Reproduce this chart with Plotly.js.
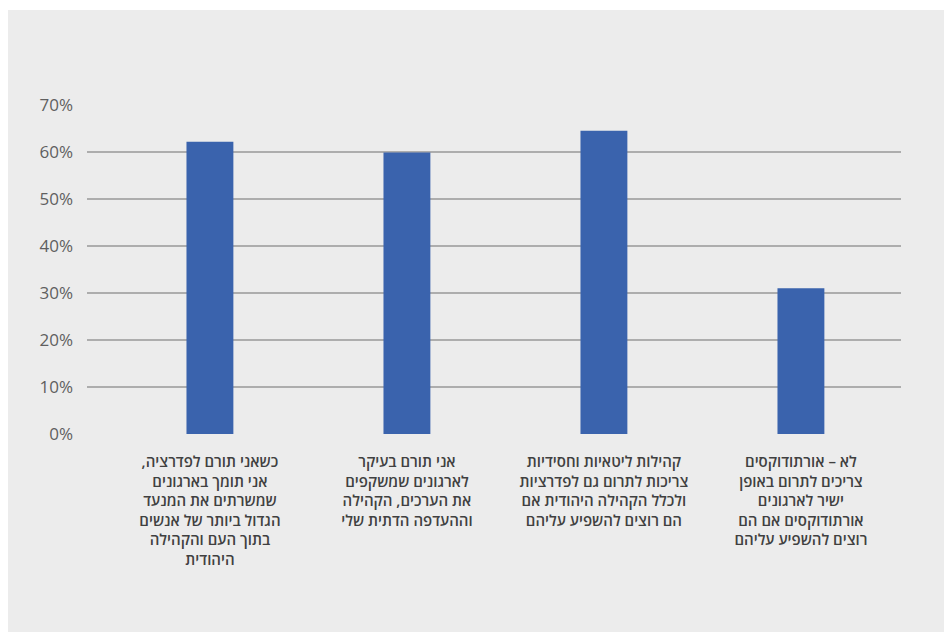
<!DOCTYPE html>
<html>
<head>
<meta charset="utf-8">
<script src="https://cdn.plot.ly/plotly-3.0.1.min.js"></script>
<style>
html, body { margin: 0; padding: 0; background: #ffffff; }
#chart { position: absolute; left: 8px; top: 10px; width: 936px; height: 622px; }
</style>
</head>
<body>
<div id="chart"></div>
<script>
const RLM = "\u200F";
const categories = [
  "כשאני תורם לפדרציה," + RLM + "<br>אני תומך בארגונים<br>שמשרתים את המנעד<br>הגדול ביותר של אנשים<br>בתוך העם והקהילה<br>היהודית",
  "אני תורם בעיקר<br>לארגונים שמשקפים<br>את הערכים, הקהילה<br>וההעדפה הדתית שלי",
  "קהילות ליטאיות וחסידיות<br>צריכות לתרום גם לפדרציות<br>ולכלל הקהילה היהודית אם<br>הם רוצים להשפיע עליהם",
  "לא – אורתודוקסים<br>צריכים לתרום באופן<br>ישיר לארגונים<br>אורתודוקסים אם הם<br>רוצים להשפיע עליהם"
];
const positions = [0, 1, 2, 3];
const values = [62.2, 59.9, 64.5, 31.0];
const yTicks = [0, 10, 20, 30, 40, 50, 60, 70];

const trace = {
  type: "bar",
  x: positions,
  y: values,
  width: 0.238,
  marker: { color: "#3a63ad" },
  hoverinfo: "skip"
};

const layout = {
  width: 936,
  height: 622,
  paper_bgcolor: "#ececec",
  plot_bgcolor: "#ececec",
  margin: { l: 79, r: 43, t: 95, b: 198 },
  showlegend: false,
  font: { family: "Open Sans, DejaVu Sans, sans-serif" },
  xaxis: {
    range: [-0.624, 3.508],
    tickvals: positions,
    ticktext: categories,
    showgrid: false,
    zeroline: false,
    showline: false,
    ticks: "",
    ticklabelstandoff: 17,
    tickfont: { size: 15, weight: 600, color: "#404040", family: "Open Sans, DejaVu Sans, sans-serif" },
    fixedrange: true
  },
  yaxis: {
    range: [0, 70],
    tickvals: yTicks,
    ticktext: yTicks.map(v => v + "%"),
    showgrid: true,
    gridcolor: "#adadad",
    gridwidth: 1.4,
    zeroline: false,
    showline: false,
    ticks: "",
    ticklabelstandoff: 13,
    tickfont: { size: 17, color: "#5f5f5f", family: "Open Sans, DejaVu Sans, sans-serif" },
    fixedrange: true
  }
};

Plotly.newPlot("chart", [trace], layout, { displayModeBar: false, staticPlot: true });
</script>
</body>
</html>
